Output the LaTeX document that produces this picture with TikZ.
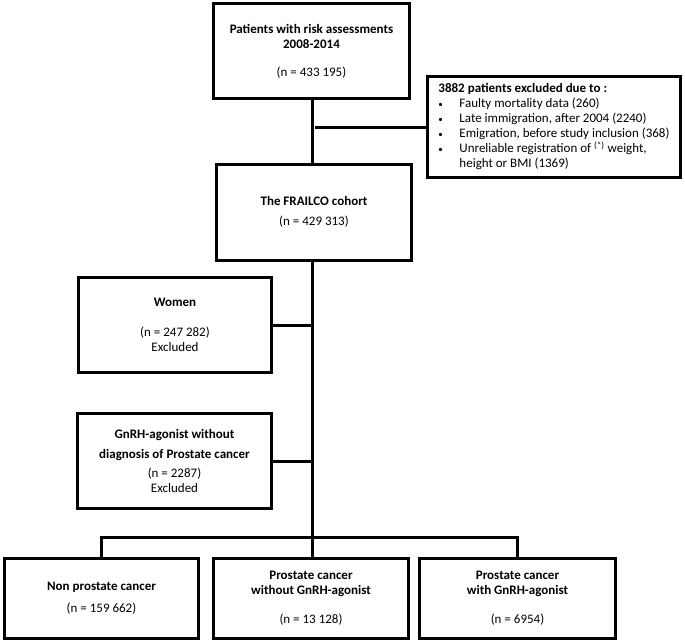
\documentclass[tikz,border=0pt]{standalone}
\usepackage{fontspec}
\setmainfont{Carlito}
\usetikzlibrary{positioning}

\newcommand{\bul}{\makebox[21pt][l]{\small\textbullet}}

\begin{document}
\begin{tikzpicture}[x = 1pt, y = -1pt, font = \fontsize{13}{15}\selectfont]
	\tikzstyle{boxStyle} = [shape = rectangle, draw, line width = 3pt, align = center, inner sep = 0pt]
	\tikzstyle{exclStyle} = [shape = rectangle, draw, line width = 3pt, align = left, inner sep = 0pt]
	\tikzstyle{linkStyle} = [line width = 3pt]
	\useasboundingbox (0,0) rectangle (685,643);
	% main flow
	\node[boxStyle, minimum width = 196pt, minimum height = 95pt] (patients) at (311.5,51) {\textbf{Patients with risk assessments}\\\textbf{2008-2014}\\[13pt](n = 433 195)};
	\node[boxStyle, minimum width = 195pt, minimum height = 96pt] (frailco) at (314,212) {\textbf{The FRAILCO cohort}\\[5pt](n = 429 313)};
	% excluded
	\node[exclStyle, minimum width = 253pt, minimum height = 101pt] (excl) at (554,127) {\textbf{3882 patients excluded due to :}\\
		\bul Faulty mortality data (260)\\
		\bul Late immigration, after 2004 (2240)\\
		\bul Emigration, before study inclusion (368)\\
		\bul Unreliable registration of \textsuperscript{(*)} weight,\\
		\hspace*{21pt}height or BMI (1369)};
	\node[boxStyle, minimum width = 193pt, minimum height = 95pt] (women) at (175,325) {\textbf{Women}\\[15pt](n = 247 282)\\Excluded};
	\node[boxStyle, minimum width = 194pt, minimum height = 95pt] (gnrh) at (174.5,461) {\textbf{GnRH-agonist without}\\[5pt]\textbf{diagnosis of Prostate cancer}\\[4pt](n = 2287)\\Excluded};
	% groups
	\node[boxStyle, minimum width = 194pt, minimum height = 80pt] (nonpc) at (101.5,598.5) {\textbf{Non prostate cancer}\\[7pt](n = 159 662)};
	\node[boxStyle, minimum width = 195pt, minimum height = 80pt] (woutg) at (311,598.5) {\textbf{Prostate cancer}\\\textbf{without GnRH-agonist}\\[14pt](n = 13 128)};
	\node[boxStyle, minimum width = 196pt, minimum height = 80pt] (withg) at (517.5,598.5) {\textbf{Prostate cancer}\\\textbf{with GnRH-agonist}\\[14pt](n = 6954)};
	\coordinate (split) at (312,537);
	% connectors
	\draw[linkStyle] (patients.south -| split) -- (frailco.north -| split);
	\draw[linkStyle] (excl.west) -- ([xshift = 3pt]excl.west -| split);
	\draw[linkStyle] (frailco.south -| split) -- (split);
	\draw[linkStyle] (women.east) -- (women.east -| split);
	\draw[linkStyle] (gnrh.east) -- (gnrh.east -| split);
	\draw[linkStyle] (nonpc.north) |- (split) -| (withg.north);
	\draw[linkStyle] (split) -- (woutg.north -| split);
\end{tikzpicture}
\end{document}
